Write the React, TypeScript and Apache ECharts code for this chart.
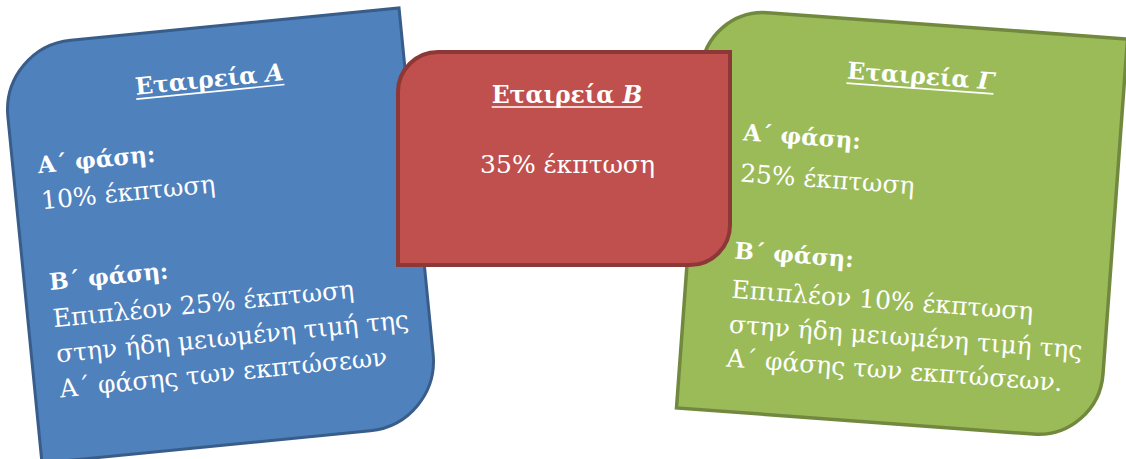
import React, { useEffect, useRef } from "react";
import * as echarts from "echarts";

const FONT = '"DejaVu Serif", serif';
const TITLE_SIZE = 23.5;
const BODY_SIZE = 25;
const BOLD_SIZE = 23;

// Card titles: [word, italic letter]
const titleWords = ["Εταιρεία ", "Εταιρεία ", "Εταιρεία "];
const titleLetters = ["Α", "Β", "Γ"];

// Card body lines: [text, bold?]
const linesA: [string, boolean][] = [
  ["Α΄ φάση:", true],
  ["10% έκπτωση", false],
  ["Β΄ φάση:", true],
  ["Επιπλέον 25% έκπτωση", false],
  ["στην ήδη μειωμένη τιμή της", false],
  ["Α΄ φάσης των εκπτώσεων", false],
];
const linesB: [string, boolean][] = [["35% έκπτωση", false]];
const linesC: [string, boolean][] = [
  ["Α΄ φάση:", true],
  ["25% έκπτωση", false],
  ["Β΄ φάση:", true],
  ["Επιπλέον 10% έκπτωση", false],
  ["στην ήδη μειωμένη τιμή της", false],
  ["Α΄ φάσης των εκπτώσεων.", false],
];

function measure(text: string, bold: boolean, italic: boolean, size: number) {
  const c = document.createElement("canvas").getContext("2d")!;
  c.font = `${italic ? "italic " : ""}${bold ? "bold " : ""}${size}px ${FONT}`;
  return c.measureText(text).width;
}

interface Card {
  cx: number;
  cy: number;
  rot: number;
  w: number;
  h: number;
  r: number[];
  fill: string;
  stroke: string;
  lw: number;
  titleIdx: number;
  titleX: number;
  titleBase: number;
  lines: [string, boolean][];
  lineX: number | null; // null => centered at bodyCenterX
  bodyCenterX?: number;
  bases: number[];
}

function buildCard(c: Card) {
  const children: any[] = [];
  children.push({
    type: "rect",
    shape: { x: -c.w / 2, y: -c.h / 2, width: c.w, height: c.h, r: c.r },
    style: { fill: c.fill, stroke: c.stroke, lineWidth: c.lw },
  });
  const word = titleWords[c.titleIdx];
  const letter = titleLetters[c.titleIdx];
  const tw =
    measure(word, true, false, TITLE_SIZE) + measure(letter, true, true, TITLE_SIZE);
  children.push({
    type: "text",
    x: c.titleX,
    y: c.titleBase - 0.36 * TITLE_SIZE,
    style: {
      text: `{a|${word}}{b|${letter}}`,
      align: "center",
      verticalAlign: "middle",
      rich: {
        a: { fontSize: TITLE_SIZE, fontFamily: FONT, fontWeight: "bold", fill: "#fff" },
        b: {
          fontSize: TITLE_SIZE,
          fontFamily: FONT,
          fontWeight: "bold",
          fontStyle: "italic",
          fill: "#fff",
        },
      },
    },
  });
  children.push({
    type: "line",
    shape: {
      x1: c.titleX - tw / 2,
      y1: c.titleBase + 4,
      x2: c.titleX + tw / 2,
      y2: c.titleBase + 4,
    },
    style: { stroke: "#fff", lineWidth: 1.6 },
  });
  c.lines.forEach(([t, bold], i) => {
    const size = bold ? BOLD_SIZE : BODY_SIZE;
    children.push({
      type: "text",
      x: c.lineX === null ? c.bodyCenterX : c.lineX,
      y: c.bases[i] - 0.36 * size,
      style: {
        text: t,
        fontSize: size,
        fontFamily: FONT,
        fontWeight: bold ? "bold" : "normal",
        fill: "#fff",
        align: c.lineX === null ? "center" : "left",
        verticalAlign: "middle",
      },
    });
  });
  return {
    type: "group",
    x: c.cx,
    y: c.cy,
    rotation: (c.rot * Math.PI) / 180,
    children,
  };
}

export default function App() {
  const ref = useRef<HTMLDivElement>(null);
  useEffect(() => {
    const chart = echarts.init(ref.current!, null, { renderer: "svg" });
    const blue = buildCard({
      cx: 220.5,
      cy: 235.5,
      rot: 5.6,
      w: 400,
      h: 418,
      r: [70, 0, 70, 0],
      fill: "#4F81BD",
      stroke: "#385D8A",
      lw: 3,
      titleIdx: 0,
      titleX: 4,
      titleBase: -148,
      lines: linesA,
      lineX: -175,
      bases: [-80, -43, 37.5, 75.5, 111, 146],
    });
    const green = buildCard({
      cx: 902,
      cy: 223.5,
      rot: -4.2,
      w: 423,
      h: 401,
      r: [62, 0, 65, 0],
      fill: "#9BBB59",
      stroke: "#71893F",
      lw: 3.5,
      titleIdx: 2,
      titleX: 8,
      titleBase: -140,
      lines: linesC,
      lineX: -165,
      bases: [-71.5, -29.5, 47, 87, 122, 156],
    });
    const red = buildCard({
      cx: 564,
      cy: 158.5,
      rot: 0,
      w: 332,
      h: 213,
      r: [40, 0, 40, 0],
      fill: "#C0504D",
      stroke: "#8C3836",
      lw: 4,
      titleIdx: 1,
      titleX: 3,
      titleBase: -55.5,
      lines: linesB,
      lineX: null,
      bodyCenterX: 3.5,
      bases: [14.5],
    });
    chart.setOption({
      animation: false,
      graphic: { elements: [blue, green, red] },
    });
    return () => chart.dispose();
  }, []);
  return (
    <div
      ref={ref}
      style={{ position: "fixed", left: 0, top: 0, width: 1126, height: 459, background: "#fff" }}
    />
  );
}
